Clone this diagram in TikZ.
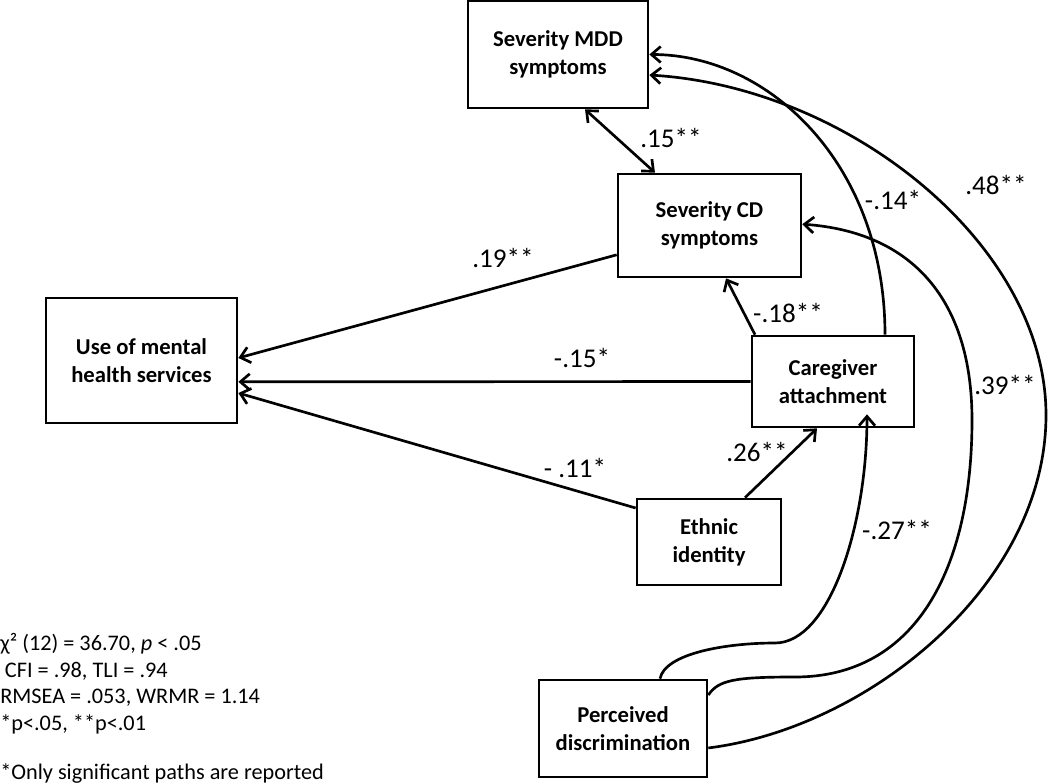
\documentclass[tikz,border=0pt]{standalone}
\usepackage{fontspec}
\setmainfont{Carlito}
\usetikzlibrary{arrows.meta}

\begin{document}
\begin{tikzpicture}[x=0.75pt,y=0.75pt,yscale=-1,xscale=1,
	>={Straight Barb[length=7pt,width=12pt]},
	box/.style={draw, line width=2pt, align=center, inner sep=0pt, font=\fontsize{17}{21}\selectfont\bfseries},
	coef/.style={inner sep=0pt, font=\fontsize{20.3}{24}\selectfont},
	link/.style={line width=2pt, ->},
	]
	\useasboundingbox (0,0) rectangle (1050,784);

	% Text Node
	\node[box, minimum width=135pt, minimum height=80.25pt] (mdd) at (558,54.5) {Severity MDD\\symptoms};
	% Text Node
	\node[box, minimum width=137.25pt, minimum height=77.25pt] (cd) at (709.5,225.5) {Severity CD\\symptoms};
	% Text Node
	\node[box, minimum width=143.25pt, minimum height=93.75pt] (use) at (141.5,360.5) {Use of mental\\health services};
	% Text Node
	\node[box, minimum width=121.5pt, minimum height=68.25pt] (care) at (833,381.5) {Caregiver\\attachment};
	% Text Node
	\node[box, minimum width=108pt, minimum height=64.5pt] (eth) at (709,542) {Ethnic\\identity};
	% Text Node
	\node[box, minimum width=126pt, minimum height=72.75pt] (perc) at (623,728.5) {Perceived\\discrimination};

	%Straight Lines (yshift follows yscale=-1: positive is down)
	\draw[link] ([yshift=22pt]cd.west) -- ([yshift=-1.9pt]use.east);
	\draw[link] (care.west) -- ([yshift=16pt]use.east);
	\draw[link] ([yshift=-25.5pt]eth.west) -- ([yshift=24.4pt]use.east);
	\draw[link] ([xshift=27pt]eth.north) -- ([xshift=-12pt]care.south);
	\draw[link] ([xshift=-58.5pt]care.north) -- ([xshift=12.4pt]cd.south);
	\draw[link, <->] ([xshift=20.25pt]mdd.south) -- ([xshift=-40.9pt]cd.north);

	%Curve Lines
	\draw[link] ([xshift=39pt]care.north) .. controls +(0,-170) and +(120,0) .. (mdd.east);
	\draw[link] ([yshift=14.6pt]perc.east) .. controls +(160,-20) and +(0,170) .. (1046,415)
		.. controls +(0,-170) and +(200,12) .. ([yshift=15.4pt]mdd.east);
	\draw[link] ([yshift=-25.1pt]perc.east) .. controls +(10,-15) and +(-60,0) .. (795,677)
		.. controls +(120,0) and +(0,150) .. (972,420)
		.. controls +(0,-120) and +(110,8) .. ([yshift=-1pt]cd.east);
	\draw[link] ([xshift=27.75pt]perc.north) .. controls +(5,-25) and +(-50,0) .. (775,643)
		.. controls +(55,0) and +(0,110) .. ([xshift=25.5pt,yshift=-10.5pt]care.south);

	% Text Node
	\node[coef] (l15a) at (671,138) {.15**};
	\node[coef] (l19) at (503,258) {.19**};
	\node[coef] (l15b) at (582,358) {-.15*};
	\node[coef] (l11) at (575,468) {- .11*};
	\node[coef] (l26) at (757,452) {.26**};
	\node[coef] (l18) at (788,313) {-.18**};
	\node[coef] (l14) at (893,200) {-.14*};
	\node[coef] (l48) at (996,185) {.48**};
	\node[coef] (l39) at (1005,385) {.39**};
	\node[coef] (l27) at (897,530) {-.27**};

	% Text Node
	\node[anchor=north west, align=left, inner sep=0pt, font=\fontsize{16.7}{20}\selectfont] (fit) at (0,633)
		{χ² (12) = 36.70, \textit{p} < .05\\\hspace*{3.5pt}CFI = .98, TLI = .94\\RMSEA = .053, WRMR = 1.14\\*p<.05, **p<.01\\[17pt]*Only significant paths are reported};
\end{tikzpicture}
\end{document}
